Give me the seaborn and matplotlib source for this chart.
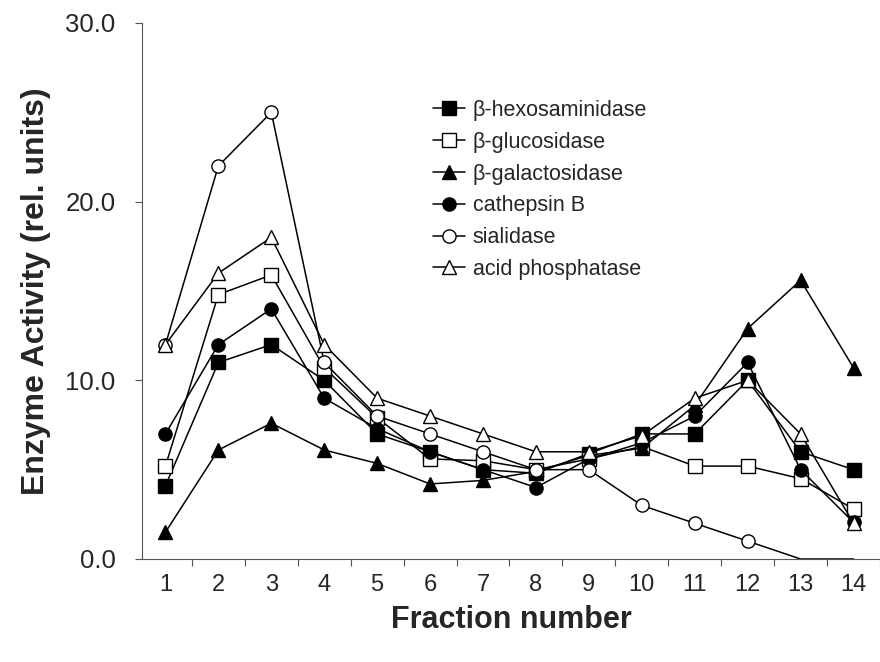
import numpy as np
import pandas as pd
import matplotlib
matplotlib.use("Agg")
import matplotlib.pyplot as plt
import seaborn as sns
from matplotlib import font_manager

# fraction numbers and the enzyme activities
fractions = list(range(1, 15))
hexosaminidase = [4.1, 11.0, 12.0, 10.0, 7.0, 6.0, 5.0, 4.8, 5.9, 7.0, 7.0, 10.0, 6.0, 5.0]
glucosidase = [5.2, 14.8, 15.9, 10.7, 7.9, 5.6, 5.5, 5.0, 5.6, 6.3, 5.2, 5.2, 4.5, 2.8]
galactosidase = [1.5, 6.1, 7.6, 6.1, 5.35, 4.2, 4.4, 4.9, 5.8, 6.2, 8.6, 12.9, 15.6, 10.7]
cathepsin = [7.0, 12.0, 14.0, 9.0, 7.3, 6.0, 5.0, 4.0, 5.6, 6.5, 8.0, 11.0, 5.0, 2.05]
sialidase = [12.0, 22.0, 25.0, 11.0, 8.0, 7.0, 6.0, 5.0, 5.0, 3.0, 2.0, 1.0, 0.0, 0.0]
acid_phosphatase = [12.0, 16.0, 18.0, 12.0, 9.0, 8.0, 7.0, 6.0, 6.0, 6.9, 9.0, 10.0, 7.0, 2.0]

series_names = ["β-hexosaminidase", "β-glucosidase", "β-galactosidase",
                "cathepsin B", "sialidase", "acid phosphatase"]
series_values = [hexosaminidase, glucosidase, galactosidase,
                 cathepsin, sialidase, acid_phosphatase]
y_ticks = [0, 10, 20, 30]

df = pd.DataFrame({"fraction": fractions})
for name, vals in zip(series_names, series_values):
    df[name] = vals

sns.set_style("ticks")
plt.rcParams['font.family'] = ['Liberation Sans', 'DejaVu Sans']

# narrow font for the x tick numbers if it is there
names = {f.name for f in font_manager.fontManager.ttflist}
narrow = 'Liberation Sans Narrow' if 'Liberation Sans Narrow' in names else 'Liberation Sans'

fig = plt.figure(figsize=(8.8, 6.62), dpi=100)
ax = fig.add_axes([142/880, 103/662, 738/880, 536/662])

# marker, face colour for each enzyme
styles = [("s", "black"), ("s", "white"), ("^", "black"),
          ("o", "black"), ("o", "white"), ("^", "white")]

for name, (mk, face) in zip(series_names, styles):
    extra = {}
    if name == "sialidase":
        extra["markevery"] = list(range(12))  # no markers where it sits on the axis
    sns.lineplot(data=df, x="fraction", y=name, ax=ax, color="black", linewidth=1.1,
                 marker=mk, markersize=9.5, markerfacecolor=face,
                 markeredgecolor="black", markeredgewidth=1.0, label=name, **extra)

ax.set_xlim(0.557, 14.48)
ax.set_ylim(0, 30)
ax.set_xticks(fractions)
ax.set_xticklabels([str(f) for f in fractions], fontsize=17, family=narrow)
ax.set_xticks(np.arange(1.5, 14.6, 1), minor=True)
ax.tick_params(axis="x", which="major", length=0, pad=11)
ax.tick_params(axis="x", which="minor", length=5, width=0.8, color="#555555")
ax.set_yticks(y_ticks)
ax.set_yticklabels([f"{t:.1f}" for t in y_ticks], fontsize=18.5)
ax.tick_params(axis="y", length=5, width=0.8, color="#555555", pad=14)

sns.despine(ax=ax)
for sp in ["left", "bottom"]:
    ax.spines[sp].set_color("#555555")
    ax.spines[sp].set_linewidth(0.8)

ax.set_xlabel("Fraction number", fontsize=22, fontweight="bold", labelpad=6)
ax.set_ylabel("Enzyme Activity (rel. units)", fontsize=23, fontweight="bold", labelpad=10)

leg = ax.legend(loc="upper left", bbox_to_anchor=(433/880, 1 - 100/662),
                bbox_transform=fig.transFigure, frameon=False, fontsize=15.5,
                handlelength=1.5, handletextpad=0.35, labelspacing=0.5,
                borderpad=0, borderaxespad=0)

fig.savefig("out.png", dpi=100)
